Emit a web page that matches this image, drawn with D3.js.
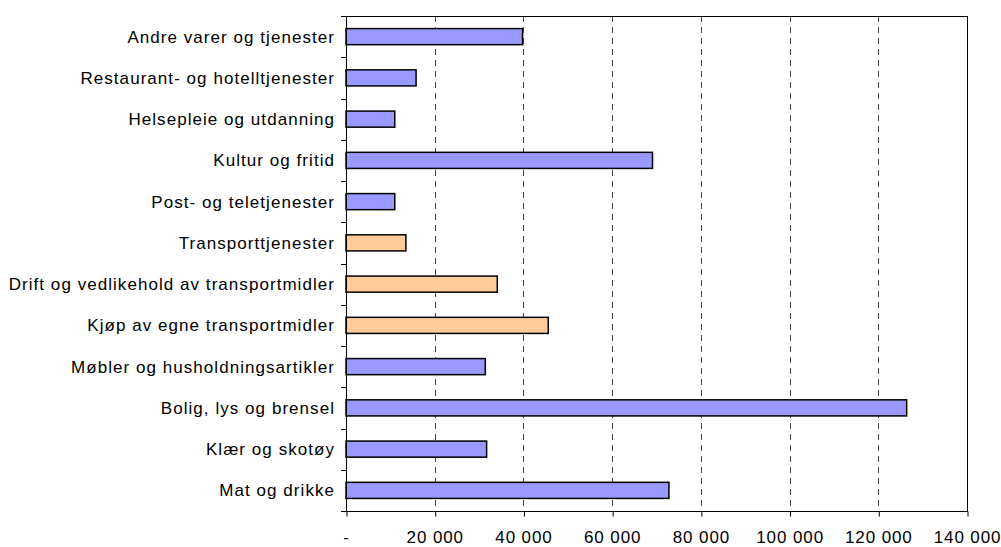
<!DOCTYPE html>
<html>
<head>
<meta charset="utf-8">
<script src="https://cdn.jsdelivr.net/npm/d3@7"></script>
<style>
  html, body { margin: 0; padding: 0; background: #fff; }
  svg { display: block; }
  text { font-family: "Liberation Sans", Arial, sans-serif; fill: #000; }
</style>
</head>
<body>
<svg id="chart" width="1001" height="547"></svg>
<script>
// Household spending by category (NOK), listed top to bottom
const categories = [
  "Andre varer og tjenester",
  "Restaurant- og hotelltjenester",
  "Helsepleie og utdanning",
  "Kultur og fritid",
  "Post- og teletjenester",
  "Transporttjenester",
  "Drift og vedlikehold av transportmidler",
  "Kjøp av egne transportmidler",
  "Møbler og husholdningsartikler",
  "Bolig, lys og brensel",
  "Klær og skotøy",
  "Mat og drikke"
];
const values = [39800, 15800, 11000, 69100, 11000, 13500, 34100, 45600, 31400, 126400, 31700, 72800];
// Transport-related groups are highlighted
const groups = ["other", "other", "other", "other", "other", "transport", "transport", "transport", "other", "other", "other", "other"];
const xTicks = [0, 20000, 40000, 60000, 80000, 100000, 120000, 140000];
const xTickLabels = ["-", "20 000", "40 000", "60 000", "80 000", "100 000", "120 000", "140 000"];

const colors = { other: "#9999FF", transport: "#FFCC99" };

const margin = { top: 16, right: 34, bottom: 36, left: 346 };
const svg = d3.select("#chart");
const W = +svg.attr("width"), H = +svg.attr("height");
const iw = W - margin.left - margin.right;
const ih = H - margin.top - margin.bottom;

const g = svg.append("g").attr("transform", `translate(${margin.left},${margin.top})`);

const x = d3.scaleLinear().domain([0, 140000]).range([0, iw]);
const y = d3.scaleBand().domain(categories).range([0, ih]).paddingInner(0.61).paddingOuter(0.305);

// Dashed vertical gridlines
g.append("g").selectAll("line")
  .data(xTicks.filter(t => t > 0 && t < 140000))
  .join("line")
  .attr("x1", d => Math.round(x(d)) + 0.5)
  .attr("x2", d => Math.round(x(d)) + 0.5)
  .attr("y1", 0).attr("y2", ih)
  .attr("stroke", "#444")
  .attr("stroke-width", 1)
  .attr("stroke-dasharray", "6,5");

// Bars
g.append("g").selectAll("rect")
  .data(categories.map((c, i) => ({ c, v: values[i], grp: groups[i] })))
  .join("rect")
  .attr("x", 0)
  .attr("y", d => y(d.c))
  .attr("width", d => x(d.v))
  .attr("height", y.bandwidth())
  .attr("fill", d => colors[d.grp])
  .attr("stroke", "#000")
  .attr("stroke-width", 1.5);

// Plot frame
g.append("rect")
  .attr("x", 0.5).attr("y", 0.5)
  .attr("width", iw).attr("height", ih)
  .attr("fill", "none")
  .attr("stroke", "#000")
  .attr("stroke-width", 1);

// X axis
const xAxis = d3.axisBottom(x)
  .tickValues(xTicks)
  .tickFormat((d, i) => xTickLabels[i])
  .tickSize(5)
  .tickPadding(14);
const gx = g.append("g").attr("transform", `translate(0.5,${ih + 0.5})`).call(xAxis);
gx.select(".domain").remove();
gx.selectAll(".tick line").attr("stroke", "#000");
gx.selectAll("text")
  .style("font-size", "17px")
  .style("letter-spacing", "0.9px")
  .attr("dx", "-0.45px")
  .attr("font-family", "Liberation Sans, Arial, sans-serif");

// Y axis: ticks sit on category boundaries, labels centred on bars
const boundaries = d3.range(categories.length + 1).map(i => i * ih / categories.length);
g.append("g").selectAll("line")
  .data(boundaries)
  .join("line")
  .attr("x1", -5).attr("x2", 0)
  .attr("y1", d => Math.round(d) + 0.5).attr("y2", d => Math.round(d) + 0.5)
  .attr("stroke", "#000");

g.append("g").selectAll("text")
  .data(categories)
  .join("text")
  .attr("x", -11)
  .attr("y", d => y(d) + y.bandwidth() / 2)
  .attr("dy", "0.35em")
  .attr("text-anchor", "end")
  .style("font-size", "17px")
  .style("letter-spacing", "1.05px")
  .text(d => d);
</script>
</body>
</html>
